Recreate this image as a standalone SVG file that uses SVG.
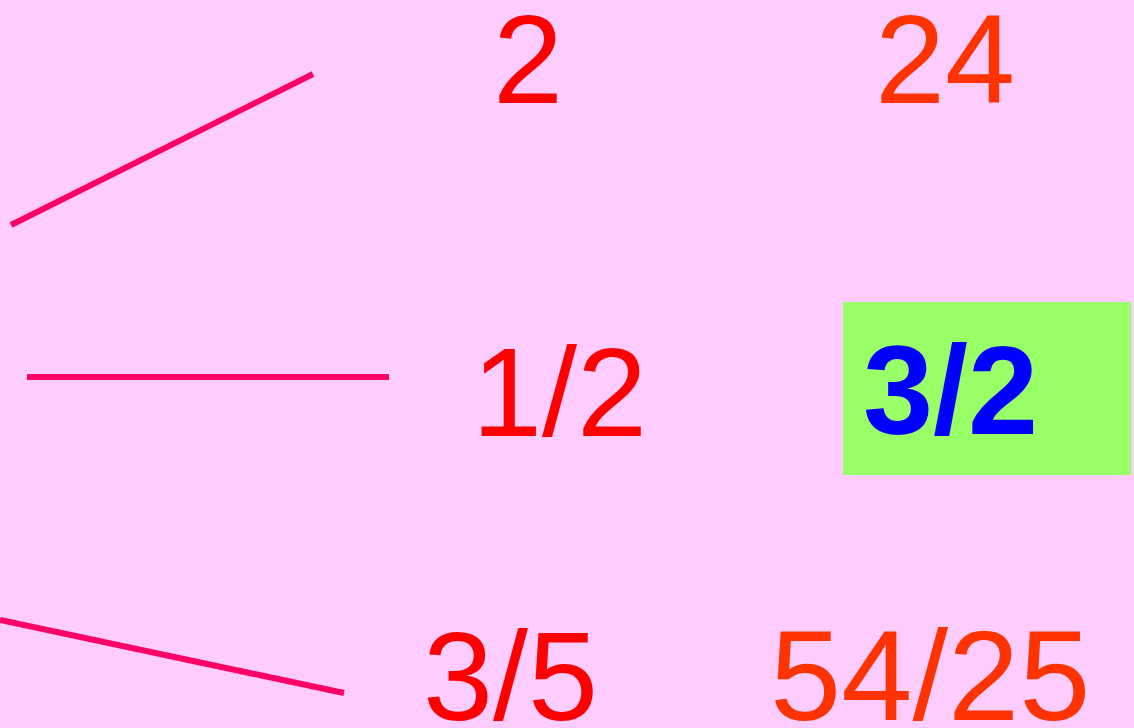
<svg xmlns="http://www.w3.org/2000/svg" width="1134" height="728" viewBox="0 0 1134 728">
<style>
.t{font-family:"Liberation Sans",Arial,sans-serif;font-size:126px}
.r{fill:#FF0000}
.o{fill:#FF3300}
.b{fill:#0000FF;font-weight:bold}
.ln{stroke:#FF0066;stroke-width:6;fill:none}
</style>
<rect width="1134" height="728" fill="#FFCCFF"/>
<g id="connectors">
<line class="ln" x1="11" y1="225" x2="313" y2="74"/>
<line class="ln" x1="27" y1="377" x2="389" y2="377"/>
<line class="ln" x1="0" y1="620" x2="344" y2="693"/>
</g>
<g id="n2"><text class="t r" x="493" y="103">2</text></g>
<g id="n24"><text class="t o" x="875" y="103">24</text></g>
<g id="n12"><text class="t r" x="472" y="436">1/2</text></g>
<g id="n32"><rect x="843" y="302" width="288" height="173" fill="#99FF66"/><text class="t b" x="863" y="434">3/2</text></g>
<g id="n35"><text class="t r" x="423" y="720">3/5</text></g>
<g id="n5425"><text class="t o" x="770" y="720" style="font-size:128px">54/25</text></g>
</svg>
